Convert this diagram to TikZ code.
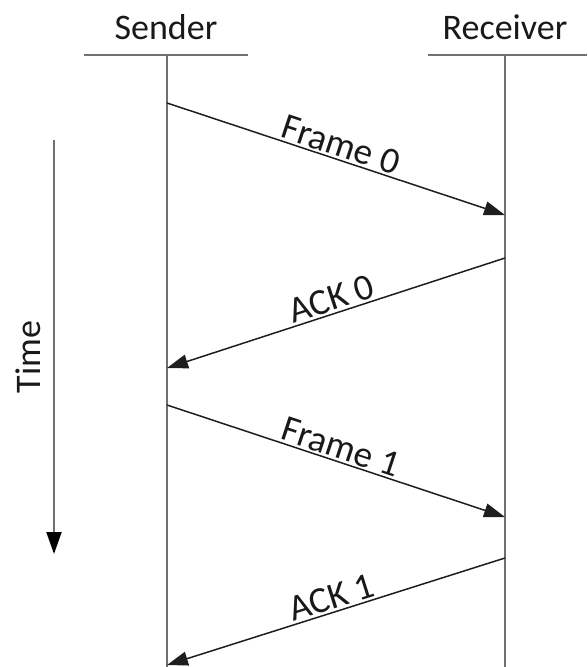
\documentclass[tikz,border=0pt]{standalone}
\usepackage{fontspec}
\setmainfont{Carlito}
\usetikzlibrary{arrows.meta, positioning}
\definecolor{linegray}{RGB}{112, 112, 112}
\definecolor{msgblack}{RGB}{30, 30, 30}

\begin{document}
\begin{tikzpicture}[x=1pt, y=-1pt,
  lifeline/.style={draw=linegray, line width=2pt},
  headbar/.style={draw=linegray, line width=2.4pt},
  msg/.style={draw=msgblack, line width=1.5pt, -{Triangle[length=21pt, width=14pt]}},
  msglabel/.style={font=\fontsize{37}{42}\selectfont, text=black!90, sloped, above, inner sep=2pt},
  headlabel/.style={font=\fontsize{36}{40}\selectfont, text=black!90}]
  \useasboundingbox (0, 0) rectangle (587, 667);

  % Headers
  \node[headlabel] (sender) at (166, 27) {Sender};
  \node[headlabel] (receiver) at (505, 27) {Receiver};
  \draw[headbar] (84, 55) -- (248, 55);
  \draw[headbar] (428, 55) -- (587, 55);

  % Lifelines
  \coordinate (sTop) at (167, 55);
  \coordinate (sBot) at (167, 667);
  \coordinate (rTop) at (505, 55);
  \coordinate (rBot) at (505, 667);
  \draw[lifeline] (sTop) -- (sBot);
  \draw[lifeline] (rTop) -- (rBot);

  % Message ends
  \coordinate (s1) at (167, 103);
  \coordinate (r1) at (505, 215);
  \coordinate (r2) at (505, 258);
  \coordinate (s2) at (167, 368);
  \coordinate (s3) at (167, 405);
  \coordinate (r3) at (505, 517);
  \coordinate (r4) at (505, 558);
  \coordinate (s4) at (167, 665);

  % Frames and ACKs
  \draw[msg] (s1) -- node[msglabel] (f0) {Frame 0} (r1);
  \draw[msg] (r2) -- node[msglabel] (a0) {ACK 0} (s2);
  \draw[msg] (s3) -- node[msglabel] (f1) {Frame 1} (r3);
  \draw[msg] (r4) -- node[msglabel] (a1) {ACK 1} (s4);

  % Time axis
  \coordinate (tTop) at (54, 140);
  \coordinate (tBot) at (54, 554);
  \draw[draw=linegray, line width=2pt, -{Triangle[length=22pt, width=15pt, color=black]}] (tTop) -- (tBot);
  \node[headlabel, rotate=90] (time) at (28, 357) {Time};
\end{tikzpicture}
\end{document}
